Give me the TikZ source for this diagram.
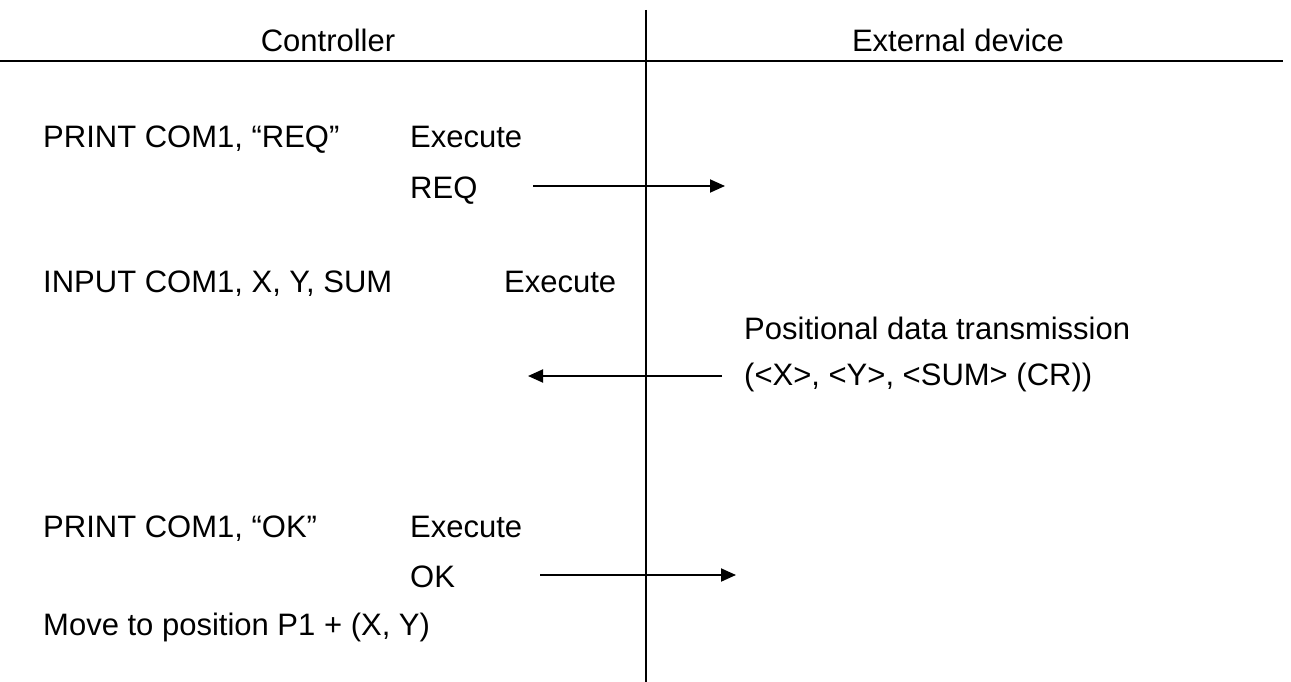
\documentclass[tikz,border=0pt]{standalone}
\usepackage{fontspec}
\setmainfont{Liberation Sans}
\usetikzlibrary{arrows.meta}
\begin{document}
\begin{tikzpicture}[x=1pt,y=-1pt,
  lbl/.style={anchor=base west,inner sep=0pt,font=\fontsize{31}{36}\selectfont},
  hdr/.style={anchor=base,inner sep=0pt,font=\fontsize{31}{36}\selectfont},
  rule/.style={line width=2.8pt},
  msg/.style={line width=1.9pt,-{Triangle[length=15pt,width=13pt]}}]
\useasboundingbox (0,0) rectangle (1291,682);
% frame lines
\coordinate (vtop) at (646,10);
\coordinate (vbot) at (646,682);
\coordinate (hl) at (0,61);
\coordinate (hr) at (1283,61);
\draw[line width=2pt] (vtop) -- (vbot);
\draw[rule] (hl) -- (hr);
% headers
\node[hdr] (ctrl) at (328,52) {Controller};
\node[hdr] (ext) at (958,52) {External device};
% row 1
\node[lbl] (p1) at (43,148) {PRINT COM1, “REQ”};
\node[lbl] (e1) at (410,148) {Execute};
\node[lbl] (req) at (410,198) {REQ};
\coordinate (a1s) at (533,186);
\coordinate (a1e) at (725,186);
\draw[msg] (a1s) -- (a1e);
% row 2
\node[lbl] (in) at (43,292) {INPUT COM1, X, Y, SUM};
\node[lbl] (e2) at (504,292) {Execute};
\node[lbl] (pos) at (744,339) {Positional data transmission};
\node[lbl] (data) at (744,385) {(<X>, <Y>, <SUM> (CR))};
\coordinate (a2s) at (722,376);
\coordinate (a2e) at (528,376);
\draw[msg] (a2s) -- (a2e);
% row 3
\node[lbl] (p2) at (43,537) {PRINT COM1, “OK”};
\node[lbl] (e3) at (410,537) {Execute};
\node[lbl] (ok) at (410,587) {OK};
\coordinate (a3s) at (540,575);
\coordinate (a3e) at (736,575);
\draw[msg] (a3s) -- (a3e);
\node[lbl] (mv) at (43,635) {Move to position P1 + (X, Y)};
\end{tikzpicture}
\end{document}
